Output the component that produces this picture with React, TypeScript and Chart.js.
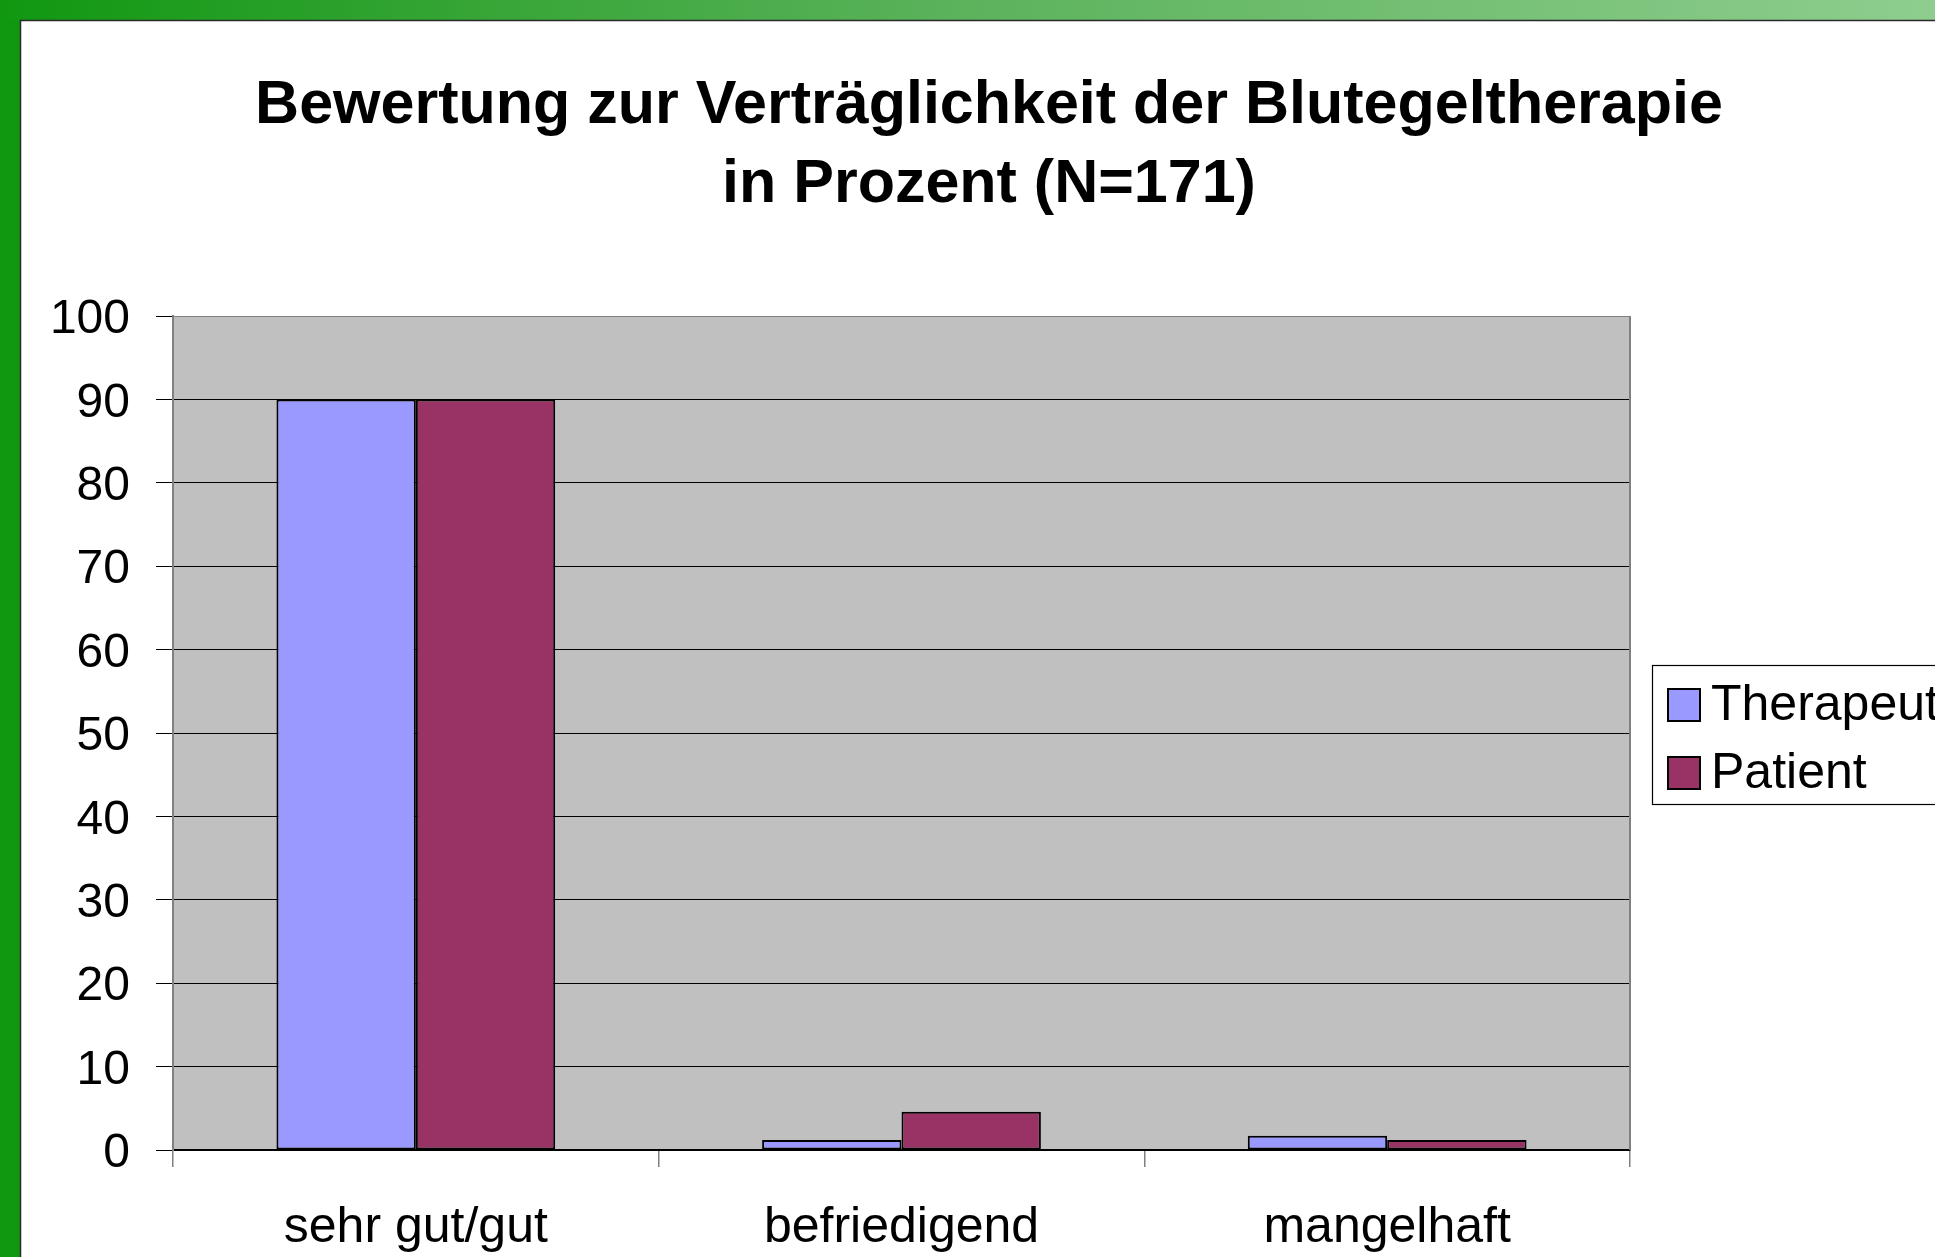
import { useEffect, useRef } from "react";
import { Chart, registerables } from "chart.js";

Chart.register(...registerables);

const categories = ["sehr gut/gut", "befriedigend", "mangelhaft"];
const seriesNames = ["Therapeut", "Patient"];
const therapeutValues = [90, 1.2, 1.7];
const patientValues = [90, 4.6, 1.2];
const seriesColors = ["#9999FF", "#993366"];
const titleLines = ["Bewertung zur Verträglichkeit der Blutegeltherapie", "in Prozent (N=171)"];
const yMin = 0;
const yMax = 100;
const yStep = 10;

const FONT = "'Liberation Sans', Arial, sans-serif";
const W = 1935;
const H = 1257;

const framePlugin = {
  id: "frame",
  beforeDraw(chart: any) {
    const { ctx, chartArea } = chart;
    ctx.save();
    ctx.fillStyle = "#ffffff";
    ctx.fillRect(0, 0, W, H);
    // left green bar
    ctx.fillStyle = "#119811";
    ctx.fillRect(0, 0, 20, H);
    // top gradient bar
    const g = ctx.createLinearGradient(0, 0, W, 0);
    g.addColorStop(0, "#119811");
    g.addColorStop(0.5, "#5cb35c");
    g.addColorStop(1, "#8ecd8e");
    ctx.fillStyle = g;
    ctx.fillRect(0, 0, W, 20);
    // dark edge line
    ctx.strokeStyle = "#2a2a2a";
    ctx.lineWidth = 1.5;
    ctx.beginPath();
    ctx.moveTo(20.5, H);
    ctx.lineTo(20.5, 20.5);
    ctx.lineTo(W, 20.5);
    ctx.stroke();
    // plot background
    ctx.fillStyle = "#C0C0C0";
    ctx.fillRect(chartArea.left, chartArea.top, chartArea.right - chartArea.left, chartArea.bottom - chartArea.top);
    ctx.restore();
  },
  afterDraw(chart: any) {
    const { ctx, chartArea } = chart;
    ctx.save();
    // right border of plot area
    ctx.strokeStyle = "#808080";
    ctx.lineWidth = 2;
    ctx.beginPath();
    ctx.moveTo(chartArea.right, chartArea.top);
    ctx.lineTo(chartArea.right, chartArea.bottom);
    ctx.stroke();

    // title
    ctx.fillStyle = "#000";
    ctx.font = `bold 61px ${FONT}`;
    ctx.textAlign = "center";
    ctx.textBaseline = "alphabetic";
    ctx.fillText(titleLines[0], 989, 123);
    ctx.fillText(titleLines[1], 989, 202);

    // legend
    const lx = 1652;
    const ly = 665;
    ctx.fillStyle = "#ffffff";
    ctx.fillRect(lx, ly, 400, 139);
    ctx.strokeStyle = "#000";
    ctx.lineWidth = 1.2;
    ctx.strokeRect(lx + 0.5, ly + 0.5, 400, 139);
    const items = chart.data.datasets;
    ctx.font = `50px ${FONT}`;
    ctx.textAlign = "left";
    items.forEach((ds: any, i: number) => {
      const sy = 689 + i * 68;
      ctx.fillStyle = ds.backgroundColor;
      ctx.fillRect(1668, sy, 32, 32);
      ctx.strokeStyle = "#000";
      ctx.lineWidth = 2;
      ctx.strokeRect(1668, sy, 32, 32);
      ctx.fillStyle = "#000";
      ctx.fillText(ds.label, 1711, 720 + i * 68);
    });
    ctx.restore();
  },
};

export default function App() {
  const ref = useRef<HTMLCanvasElement | null>(null);

  useEffect(() => {
    if (!ref.current) return;
    const chart = new Chart(ref.current, {
      type: "bar",
      data: {
        labels: categories,
        datasets: [
          {
            label: seriesNames[0],
            data: therapeutValues,
            backgroundColor: seriesColors[0],
            borderColor: "#000",
            borderWidth: 2,
            borderSkipped: false,
          },
          {
            label: seriesNames[1],
            data: patientValues,
            backgroundColor: seriesColors[1],
            borderColor: "#000",
            borderWidth: 2,
            borderSkipped: false,
          },
        ],
      },
      options: {
        responsive: false,
        animation: false,
        devicePixelRatio: 1,
        layout: { padding: { top: 316, left: 20, right: 305, bottom: 0 } },
        datasets: {
          bar: { categoryPercentage: 0.574, barPercentage: 1 },
        },
        plugins: {
          legend: { display: false },
          title: { display: false },
          tooltip: { enabled: false },
        },
        scales: {
          x: {
            offset: true,
            grid: {
              offset: true,
              drawOnChartArea: false,
              drawTicks: true,
              tickLength: 17,
              color: "#808080",
              lineWidth: 1.5,
            },
            border: { display: true, color: "#000", width: 2 },
            ticks: {
              color: "#000",
              font: { family: FONT, size: 50 },
              padding: 31,
              maxRotation: 0,
            },
            afterFit(scale: any) {
              scale.height = 107;
            },
          },
          y: {
            min: yMin,
            max: yMax,
            grid: {
              color: (c: any) => (c.tick && c.tick.value === yMax ? "#808080" : "#000"),
              lineWidth: 1,
              tickLength: 17,
              tickColor: "#000",
            },
            border: { display: true, color: "#808080", width: 2 },
            ticks: {
              stepSize: yStep,
              color: "#000",
              font: { family: FONT, size: 48 },
              padding: 26,
              labelOffset: 4,
            },
            afterFit(scale: any) {
              scale.width = 153;
            },
          },
        },
      },
      plugins: [framePlugin],
    });
    return () => chart.destroy();
  }, []);

  return (
    <canvas
      ref={ref}
      width={W}
      height={H}
      style={{ position: "fixed", left: 0, top: 0, width: W, height: H, display: "block" }}
    />
  );
}
